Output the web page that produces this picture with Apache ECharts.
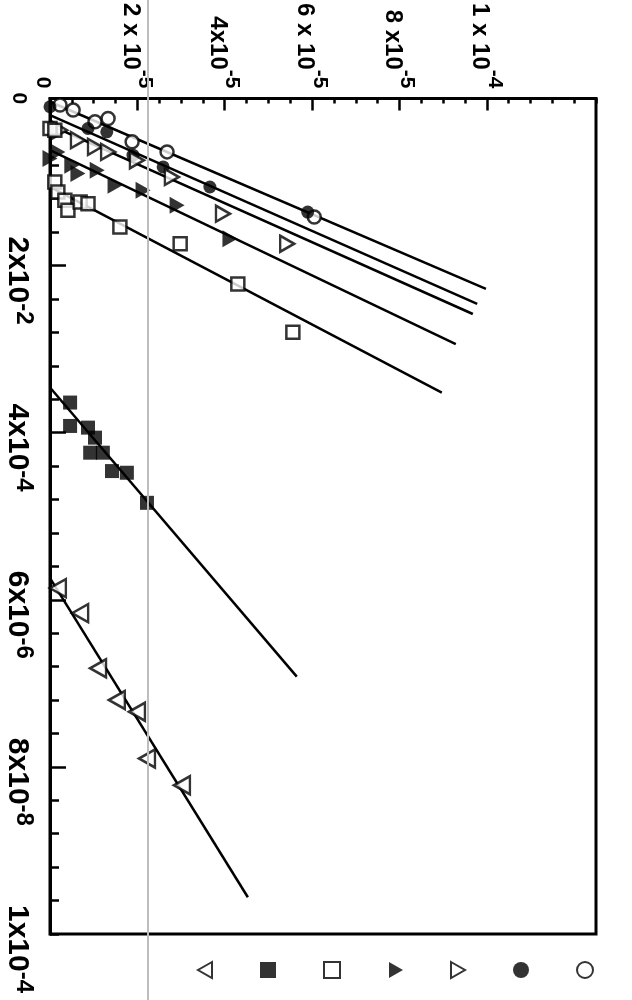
<!DOCTYPE html>
<html><head><meta charset="utf-8">
<script src="https://cdn.jsdelivr.net/npm/echarts@6/dist/echarts.min.js"></script>
<style>html,body{margin:0;padding:0;background:#fff}#c{width:632px;height:1000px}</style>
</head><body><div id="c"></div>
<script>
// x values: top axis, in units of 1e-5 ; y values: left axis units (0..5, increasing downward)
const xLabelValues = [0, 2, 4, 6, 8, 10];
const xLabelMain = ['0', '2 x 10', '4x10', '6 x 10', '8 x10', '1 x 10'];
const xLabelExp  = ['', '-5', '-5', '-5', '-5', '-4'];
const yLabelValues = [0, 1, 2, 3, 4, 5];
const yLabelMain = ['0', '2x10', '4x10', '6x10', '8x10', '1x10'];
const yLabelExp  = ['', '-2', '-4', '-6', '-8', '-4'];

const openCircle = [[0.23,0.04],[0.53,0.07],[1.03,0.14],[1.33,0.12],[1.88,0.26],[2.68,0.32],[6.05,0.71]];
const filledCircle = [[0.0,0.05],[0.87,0.18],[1.30,0.20],[1.90,0.34],[2.59,0.41],[3.66,0.53],[5.90,0.68]];
const openTriRight = [[0.23,0.19],[0.64,0.25],[1.03,0.29],[1.33,0.32],[1.99,0.37],[2.79,0.47],[3.96,0.69],[5.43,0.87]];
const filledTriRight = [[0.0,0.36],[0.18,0.32],[0.50,0.40],[0.64,0.45],[1.08,0.43],[1.49,0.52],[2.13,0.55],[2.91,0.64],[4.12,0.84]];
const openSquare = [[0.0,0.18],[0.11,0.19],[0.11,0.50],[0.18,0.56],[0.34,0.61],[0.41,0.67],[0.69,0.62],[0.87,0.63],[1.60,0.77],[2.98,0.87],[4.30,1.11],[5.56,1.40]];
const filledSquare = [[0.46,1.82],[0.46,1.96],[0.87,1.97],[1.03,2.03],[0.92,2.12],[1.21,2.12],[1.42,2.23],[1.76,2.24],[2.22,2.42]];
const openTriLeft = [[0.18,2.93],[0.69,3.08],[1.10,3.41],[1.53,3.60],[1.99,3.67],[2.22,3.95],[3.02,4.11]];

const fitOpenCircle = [[0,0.02],[9.98,1.14]];
const fitFilledCircle = [[0,0.10],[9.78,1.23]];
const fitOpenTriRight = [[0,0.16],[9.68,1.29]];
const fitFilledTriRight = [[0,0.31],[9.29,1.47]];
const fitOpenSquare = [[0,0.53],[8.97,1.76]];
const fitFilledSquare = [[0,1.73],[5.65,3.46]];
const fitOpenTriLeft = [[0,2.87],[4.53,4.78]];

const triRight = 'path://M0,0L14,8L0,16Z';
const triLeft = 'path://M14,0L0,8L14,16Z';
const FONT = 'Liberation Sans';
const open = {color:'#fff', borderColor:'#000', borderWidth:2.5};
const filled = {color:'#000', borderColor:'#000', borderWidth:0};

function lbl(values, mains, exps, zeroStyle) {
  return function (v) {
    let i = values.findIndex(t => Math.abs(t - v) < 1e-6);
    if (i < 0) return '';
    if (!exps[i]) return '{' + zeroStyle + '|' + mains[i] + '}';
    return '{m|' + mains[i] + '}{s|' + exps[i] + '}';
  };
}

const chart = echarts.init(document.getElementById('c'), null, {renderer:'canvas'});
const scatter = (name, data, symbol, size, style) => ({
  name, type:'scatter', data, symbol, symbolSize:size, itemStyle:style, z:5, silent:true, clip:false
});
const fit = (name, data) => ({
  name, type:'line', data, showSymbol:false, symbol:'none', z:3, silent:true,
  lineStyle:{color:'#000', width:2.5}
});
const axisCommon = {type:'value', splitLine:{show:false}};
chart.setOption({
  animation:false,
  backgroundColor:'#fff',
  grid:{left:50, right:36, top:98, bottom:66, show:true, borderColor:'#000', borderWidth:3, backgroundColor:'#fff'},
  xAxis:[
    Object.assign({}, axisCommon, {
      position:'top', min:0, max:12.5, interval:0.5,
      axisLine:{show:true, lineStyle:{color:'#000', width:3}},
      axisTick:{show:true, inside:true, length:5, lineStyle:{color:'#000', width:2.5}},
      axisLabel:{show:true, customValues:xLabelValues, rotate:-90, margin:10, padding:[14,0,0,0],
        formatter: lbl(xLabelValues, xLabelMain, xLabelExp, 'zx'),
        rich:{
          m:{fontSize:24, fontWeight:'bold', fontFamily:FONT, color:'#000', lineHeight:50},
          s:{fontSize:21, fontWeight:'bold', fontFamily:FONT, color:'#000', lineHeight:18, verticalAlign:'top'},
          zx:{fontSize:21, fontWeight:'bold', fontFamily:FONT, color:'#000', lineHeight:20, padding:[0,0,0,0]}
        }}
    }),
    Object.assign({}, axisCommon, {
      position:'top', min:0, max:12.5, interval:0.5,
      axisLine:{show:false},
      axisTick:{show:true, inside:true, length:12, customValues:[2,4,6,8,10], lineStyle:{color:'#000', width:2.5}},
      axisLabel:{show:false}
    })
  ],
  yAxis:[
    Object.assign({}, axisCommon, {
      position:'left', inverse:true, min:0, max:5, interval:0.2,
      axisLine:{show:true, lineStyle:{color:'#000', width:3}},
      axisTick:{show:true, inside:true, length:9, lineStyle:{color:'#000', width:2.5}},
      axisLabel:{show:true, customValues:yLabelValues, rotate:-90, margin:14,
        formatter: lbl(yLabelValues, yLabelMain, yLabelExp, 'z'),
        rich:{
          m:{fontSize:30, fontWeight:'bold', fontFamily:FONT, color:'#000', lineHeight:38, padding:[0,0,0,30]},
          s:{fontSize:24, fontWeight:'bold', fontFamily:FONT, color:'#000', lineHeight:22, verticalAlign:'top'},
          z:{fontSize:21, fontWeight:'bold', fontFamily:FONT, color:'#000', lineHeight:20, padding:[14,0,0,0]}
        }}
    }),
    Object.assign({}, axisCommon, {
      position:'left', inverse:true, min:0, max:5, interval:0.2,
      axisLine:{show:false},
      axisTick:{show:true, inside:true, length:16, customValues:[1,2,3,4], lineStyle:{color:'#000', width:2.5}},
      axisLabel:{show:false}
    })
  ],
  legend:{
    data:[
      {name:'openTriLeft', icon:triLeft},
      {name:'filledSquare', icon:'rect'},
      {name:'openSquare', icon:'rect'},
      {name:'filledTriRight', icon:triRight},
      {name:'openTriRight', icon:triRight},
      {name:'filledCircle', icon:'circle'},
      {name:'openCircle', icon:'circle'}
    ],
    orient:'horizontal', left:192, top:956, itemWidth:16, itemHeight:16, itemGap:47,
    selectedMode:false, formatter:function(){return '';}, textStyle:{fontSize:1}
  },
  graphic:[{type:'line', shape:{x1:148, y1:0, x2:148, y2:1000}, style:{stroke:'#bdbdbd', lineWidth:2}, z:100, silent:true}],
  series:[
    fit('fitOpenCircle', fitOpenCircle),
    fit('fitFilledCircle', fitFilledCircle),
    fit('fitOpenTriRight', fitOpenTriRight),
    fit('fitFilledTriRight', fitFilledTriRight),
    fit('fitOpenSquare', fitOpenSquare),
    fit('fitFilledSquare', fitFilledSquare),
    fit('fitOpenTriLeft', fitOpenTriLeft),
    scatter('openCircle', openCircle, 'circle', 13, open),
    scatter('filledCircle', filledCircle, 'circle', 13, filled),
    scatter('openTriRight', openTriRight, triRight, [14,16], open),
    scatter('filledTriRight', filledTriRight, triRight, [15,17], filled),
    scatter('openSquare', openSquare, 'rect', 13, open),
    scatter('filledSquare', filledSquare, 'rect', 14, filled),
    scatter('openTriLeft', openTriLeft, triLeft, [16,18], open)
  ]
});
</script></body></html>
